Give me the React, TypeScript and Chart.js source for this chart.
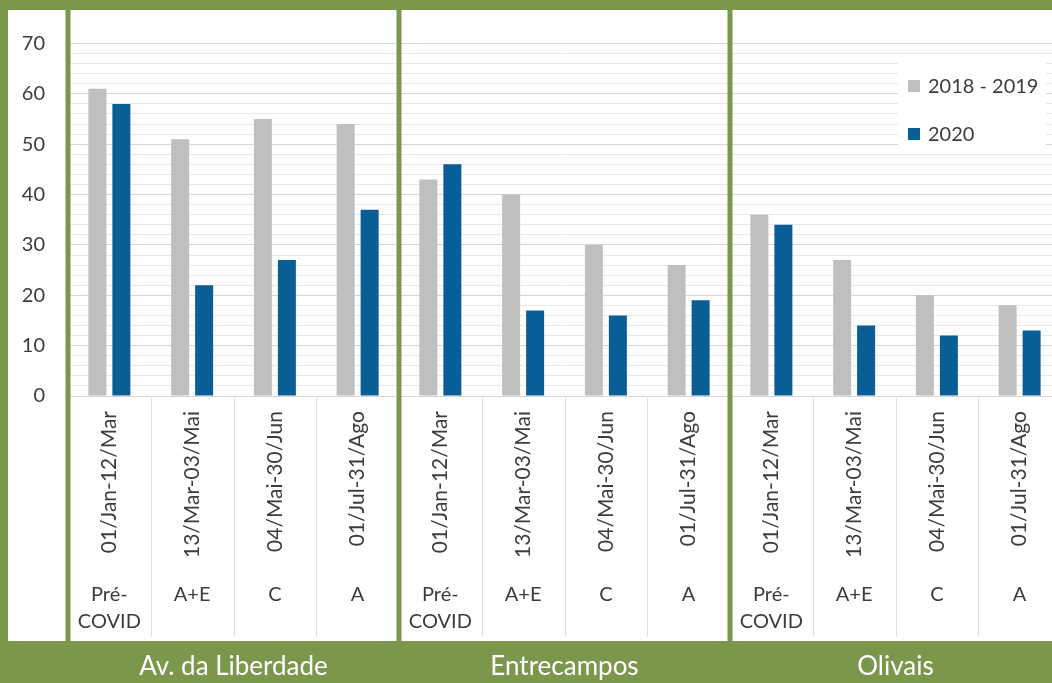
import React, { useEffect, useRef } from 'react';
import { Chart, registerables } from 'chart.js';

Chart.register(...registerables);

// ---- data ----
const periods = ['01/Jan-12/Mar', '13/Mar-03/Mai', '04/Mai-30/Jun', '01/Jul-31/Ago'];
const phases = [['Pré-', 'COVID'], ['A+E'], ['C'], ['A']];
const places = ['Av. da Liberdade', 'Entrecampos', 'Olivais'];
const seriesNames = ['2018 - 2019', '2020'];
const liberdade1819 = [61, 51, 55, 54];
const liberdade2020 = [58, 22, 27, 37];
const entrecampos1819 = [43, 40, 30, 26];
const entrecampos2020 = [46, 17, 16, 19];
const olivais1819 = [36, 27, 20, 18];
const olivais2020 = [34, 14, 12, 13];
const yTickLabels = [0, 10, 20, 30, 40, 50, 60, 70];

// ---- styles ----
const GREEN = '#7b974b';
const GRAY = '#bfbfbf';
const BLUE = '#0a5e96';
const TEXT = '#3c3c3c';
const FONT = 'Lato';
const CANVAS_W = 1064;
const CANVAS_H = 683;
const BAND_TOP = 641;

const framePlugin = {
  id: 'frame',
  beforeDraw(chart: any) {
    const ctx = chart.ctx;
    ctx.save();
    ctx.fillStyle = GREEN;
    ctx.fillRect(0, 0, chart.width, chart.height);
    ctx.fillStyle = '#ffffff';
    ctx.fillRect(8, 10, chart.width - 8, BAND_TOP - 10);
    ctx.restore();
  },
  afterDraw(chart: any) {
    const ctx = chart.ctx;
    const area = chart.chartArea;
    const x = chart.scales.x;
    const n = chart.data.labels.length;
    const cw = (area.right - area.left) / n;
    ctx.save();

    // category separators in label area
    ctx.strokeStyle = '#e0e0e0';
    ctx.lineWidth = 1;
    for (let i = 0; i < n; i++) {
      if (i % periods.length === 0) continue;
      const px = Math.round(x.getPixelForValue(i) - cw / 2) + 0.5;
      ctx.beginPath();
      ctx.moveTo(px, area.bottom);
      ctx.lineTo(px, BAND_TOP - 4);
      ctx.stroke();
    }

    // green dividers
    ctx.fillStyle = GREEN;
    for (let p = 0; p < places.length; p++) {
      const px = x.getPixelForValue(p * periods.length) - cw / 2;
      ctx.fillRect(px - 2.5, 0, 5, BAND_TOP);
    }

    // phase labels
    ctx.fillStyle = TEXT;
    ctx.font = `20px ${FONT}`;
    ctx.textAlign = 'center';
    ctx.textBaseline = 'alphabetic';
    for (let i = 0; i < n; i++) {
      const lines = phases[i % periods.length];
      const px = x.getPixelForValue(i);
      lines.forEach((t, k) => ctx.fillText(t, px, 601 + k * 27));
    }

    // place names
    ctx.fillStyle = '#ffffff';
    ctx.font = `26px ${FONT}`;
    for (let p = 0; p < places.length; p++) {
      const l = x.getPixelForValue(p * periods.length) - cw / 2;
      const r = x.getPixelForValue((p + 1) * periods.length - 1) + cw / 2;
      ctx.fillText(places[p], (l + r) / 2, 675);
    }

    // legend
    ctx.fillStyle = '#ffffff';
    ctx.fillRect(898, 58, 148, 92);
    ctx.font = `20px ${FONT}`;
    ctx.textAlign = 'left';
    ctx.textBaseline = 'middle';
    chart.data.datasets.forEach((ds: any, k: number) => {
      const cy = 86 + k * 48;
      ctx.fillStyle = ds.backgroundColor;
      ctx.fillRect(908, cy - 6, 12, 12);
      ctx.fillStyle = TEXT;
      ctx.fillText(ds.label, 928, cy + 1);
    });

    ctx.restore();
  },
};

export default function App() {
  const ref = useRef<HTMLCanvasElement | null>(null);

  useEffect(() => {
    if (!ref.current) return;
    const labels: string[] = [];
    places.forEach(() => periods.forEach((p) => labels.push(p)));
    const old = [...liberdade1819, ...entrecampos1819, ...olivais1819];
    const cur = [...liberdade2020, ...entrecampos2020, ...olivais2020];

    const chart = new Chart(ref.current, {
      type: 'bar',
      data: {
        labels,
        datasets: [
          { label: seriesNames[0], data: old, backgroundColor: GRAY, categoryPercentage: 0.58, barPercentage: 0.75 },
          { label: seriesNames[1], data: cur, backgroundColor: BLUE, categoryPercentage: 0.58, barPercentage: 0.75 },
        ],
      },
      options: {
        animation: false,
        responsive: false,
        devicePixelRatio: 1,
        layout: { padding: { top: 43.5, right: 3, left: 0, bottom: 0 } },
        plugins: { legend: { display: false }, tooltip: { enabled: false } },
        scales: {
          x: {
            type: 'category',
            offset: true,
            grid: { display: false, drawTicks: false },
            border: { display: false },
            ticks: {
              autoSkip: false,
              maxRotation: 90,
              minRotation: 90,
              padding: 15,
              color: TEXT,
              font: { family: FONT, size: 21 },
            },
            afterFit: (s: any) => { s.height = CANVAS_H - 396; },
          },
          y: {
            min: 0,
            max: 70,
            grid: {
              drawTicks: false,
              color: (c: any) => (c.tick && yTickLabels.includes(c.tick.value) ? '#d6d6d6' : '#e8e8e8'),
              lineWidth: 1,
            },
            border: { display: false },
            ticks: {
              stepSize: 2,
              autoSkip: false,
              padding: 23,
              color: TEXT,
              font: { family: FONT, size: 20 },
              callback: (v: any) => (yTickLabels.includes(Number(v)) ? String(v) : ''),
            },
            afterFit: (s: any) => { s.width = 68; },
          },
        },
      },
      plugins: [framePlugin],
    });

    if ((document as any).fonts?.load) {
      (document as any).fonts.load(`20px ${FONT}`).then(() => chart.update()).catch(() => {});
    }
    return () => chart.destroy();
  }, []);

  return (
    <div style={{ position: 'fixed', left: 0, top: 0, width: 1052, height: 683, overflow: 'hidden' }}>
      <canvas ref={ref} width={CANVAS_W} height={CANVAS_H} style={{ display: 'block', width: CANVAS_W, height: CANVAS_H }} />
    </div>
  );
}
